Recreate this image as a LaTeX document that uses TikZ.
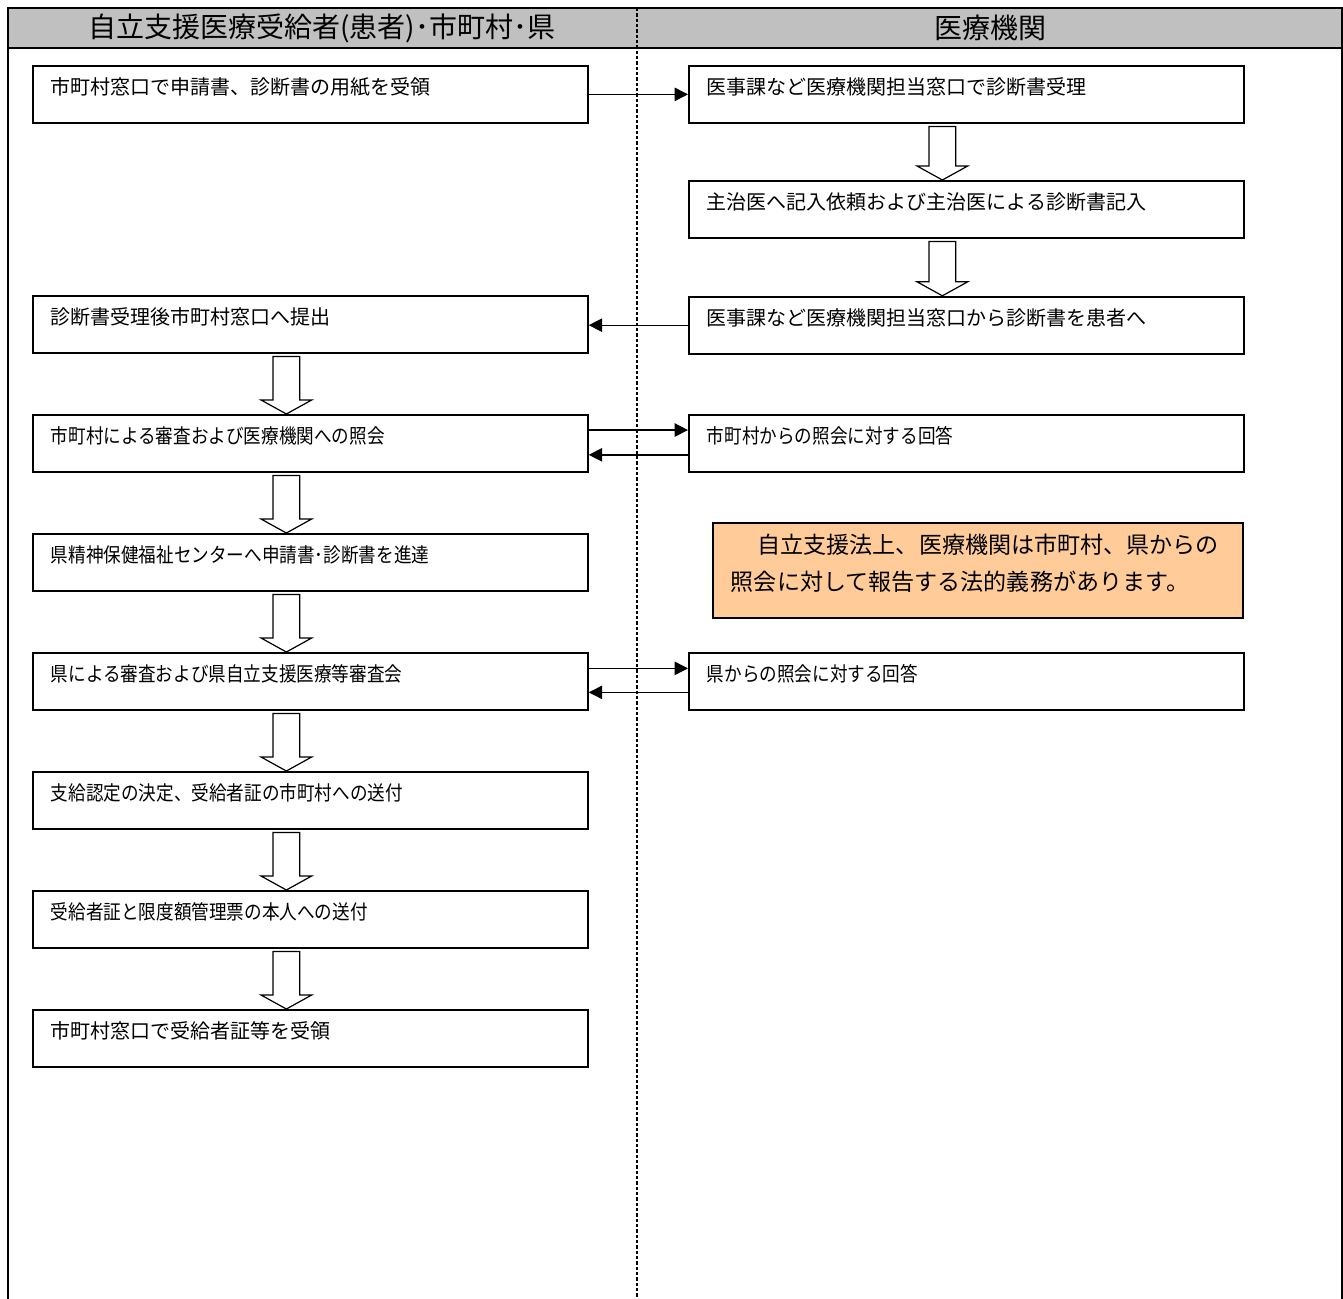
\documentclass[tikz,border=0pt]{standalone}
\usepackage{fontspec}
\setmainfont{Noto Sans CJK JP}
\newfontfamily\narrowjp[FakeStretch=0.88]{Noto Sans CJK JP}
\usetikzlibrary{positioning,arrows.meta,calc}

\definecolor{headgray}{HTML}{C0C0C0}
\definecolor{noteorange}{HTML}{FFCC99}

% hollow block arrow from the bottom of one box down to the top of the next
\newcommand\downblock[2]{%
  \draw[line width=0.9pt, fill=white] let \p1=([xshift=-18pt]#1.south), \p2=(#2.north) in
    (\x1-10pt,\y1-2pt) -- (\x1-10pt,\y2+10.5pt) -- (\x1-19pt,\y2+10.5pt) -- (\x1,\y2)
    -- (\x1+19pt,\y2+10.5pt) -- (\x1+10pt,\y2+10.5pt) -- (\x1+10pt,\y1-2pt) -- cycle;}

\begin{document}
\begin{tikzpicture}[
    x=0.75pt, y=-0.75pt,
    node distance=45.2pt,
    box/.style={rectangle, draw, line width=1.3pt, anchor=north west, align=left, text width=389.25pt, inner xsep=13.5pt, inner ysep=0pt, text height=21.75pt, text depth=21pt, font=\fontsize{15}{18}\selectfont},
    narrow/.style={font=\fontsize{15}{18}\narrowjp},
    note/.style={rectangle, draw, line width=1.3pt, fill=noteorange, anchor=north west, align=left, text width=370.5pt, inner xsep=13.5pt, inner ysep=0pt, text height=23pt, text depth=48.25pt, font=\fontsize{17.3}{27.75}\selectfont},
    head/.style={font=\fontsize{21}{25}\selectfont},
    arrow/.style={-{Triangle[length=10pt,width=10pt]}, line width=1pt},
    lane/.style={line width=1.5pt},
    divider/.style={line width=0.8pt, dash pattern=on 2.5pt off 1.5pt}
]
\useasboundingbox (0,0) rectangle (1343,1299);

% swimlanes
\fill[headgray] (8,8) rectangle (1342,48);
\draw[lane] (8,1299) -- (8,8) -- (1342,8) -- (1342,1299);
\draw[lane] (8,48) -- (1342,48);
\draw[divider] (637,8) -- (637,1299);
\node[head] (hl) at (322,28) {自立支援医療受給者(患者)･市町村･県};
\node[head] (hr) at (990,28) {医療機関};

% left column
\node[box] (l1) at (32,65) {市町村窓口で申請書、診断書の用紙を受領};
\node[box] (l2) at (32,295) {診断書受理後市町村窓口へ提出};
\node[box, narrow, below=of l2] (l3) {市町村による審査および医療機関への照会};
\node[box, narrow, below=of l3] (l4) {県精神保健福祉センターへ申請書･診断書を進達};
\node[box, narrow, below=of l4] (l5) {県による審査および県自立支援医療等審査会};
\node[box, narrow, below=of l5] (l6) {支給認定の決定、受給者証の市町村への送付};
\node[box, narrow, below=of l6] (l7) {受給者証と限度額管理票の本人への送付};
\node[box, below=of l7] (l8) {市町村窓口で受給者証等を受領};

% right column
\node[box] (r1) at (688,65) {医事課など医療機関担当窓口で診断書受理};
\node[box, below=42.2pt of r1] (r2) {主治医へ記入依頼および主治医による診断書記入};
\node[box, below=42.8pt of r2] (r3) {医事課など医療機関担当窓口から診断書を患者へ};
\node[box, narrow] (r4) at (l3.north -| r1.west) {市町村からの照会に対する回答};
\node[box, narrow] (r5) at (l5.north -| r1.west) {県からの照会に対する回答};
\node[note] (note) at (712,522) {\hspace*{20pt}自立支援法上、医療機関は市町村、県からの\\照会に対して報告する法的義務があります。};

% block arrows
\downblock{r1}{r2}
\downblock{r2}{r3}
\downblock{l2}{l3}
\downblock{l3}{l4}
\downblock{l4}{l5}
\downblock{l5}{l6}
\downblock{l6}{l7}
\downblock{l7}{l8}

% arrows between lanes
\draw[arrow] (l1) -- (r1);
\draw[arrow] (r3.west) -- (r3.west -| l2.east);
\draw[arrow] ([yshift=10pt]l3.east) -- ([yshift=10pt]l3.east -| r4.west);
\draw[arrow] ([yshift=-8.6pt]r4.west) -- ([yshift=-8.6pt]r4.west -| l3.east);
\draw[arrow] ([yshift=9.75pt]l5.east) -- ([yshift=9.75pt]l5.east -| r5.west);
\draw[arrow] ([yshift=-8.25pt]r5.west) -- ([yshift=-8.25pt]r5.west -| l5.east);
\end{tikzpicture}
\end{document}
